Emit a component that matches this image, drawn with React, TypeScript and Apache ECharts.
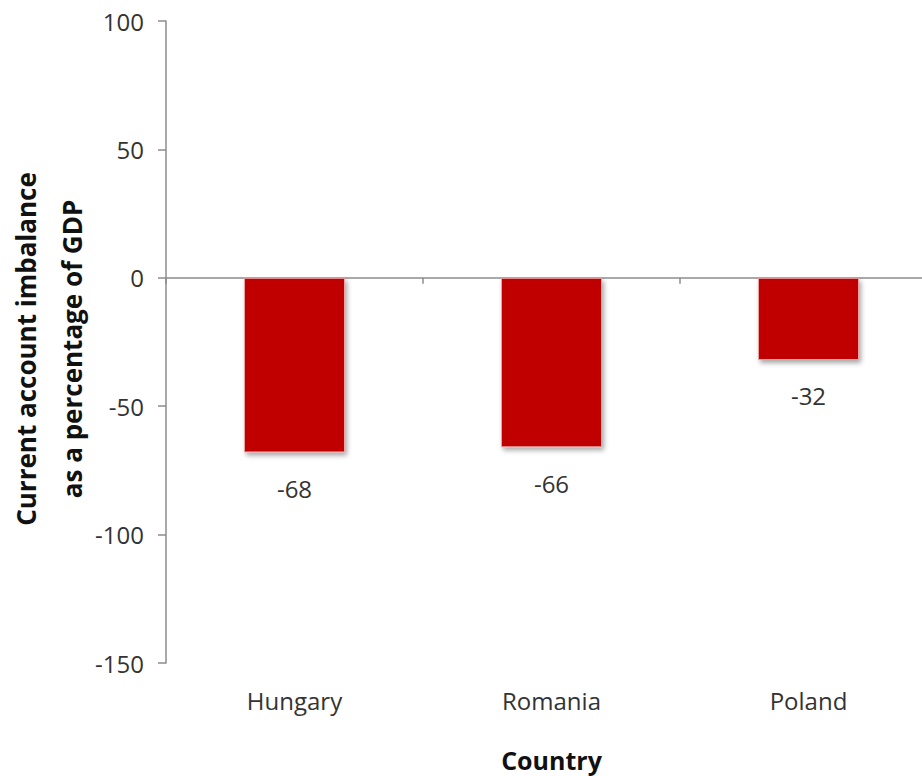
import React, { useEffect, useRef } from "react";
import * as echarts from "echarts";

const categories = ["Hungary", "Romania", "Poland"];
const values = [-68, -66, -32];
const yTicks = { min: -150, max: 100, interval: 50 };
const yTitle = "Current account imbalance\nas a percentage of GDP";
const xTitle = "Country";

export default function App() {
  const ref = useRef<HTMLDivElement>(null);
  useEffect(() => {
    if (!ref.current) return;
    const chart = echarts.init(ref.current, undefined, { renderer: "svg" });
    const font = "'Open Sans', 'Noto Sans', sans-serif";
    chart.setOption({
      animation: false,
      backgroundColor: "#ffffff",
      textStyle: { fontFamily: font },
      grid: {
        left: 166,
        right: -15,
        top: 21,
        bottom: 113,
        containLabel: false,
        outerBoundsMode: "none",
      },
      xAxis: [
        {
          type: "category",
          data: categories,
          axisLine: { onZero: true, lineStyle: { color: "#8c8c8c", width: 1.5 } },
          axisTick: { show: true, length: 6, lineStyle: { color: "#8c8c8c", width: 1.5 } },
          axisLabel: { show: false },
          splitLine: { show: false },
        },
        {
          type: "category",
          data: categories,
          position: "bottom",
          axisLine: { show: false, onZero: false },
          axisTick: { show: false },
          axisLabel: { show: true, color: "#333333", fontSize: 24, margin: 25, fontFamily: font },
          name: xTitle,
          nameLocation: "middle",
          nameGap: 84,
          nameMoveOverlap: false,
          nameTextStyle: { fontSize: 25, fontWeight: "bold", color: "#111111", fontFamily: font },
          splitLine: { show: false },
        },
      ],
      yAxis: {
        type: "value",
        min: yTicks.min,
        max: yTicks.max,
        interval: yTicks.interval,
        axisLine: { show: true, lineStyle: { color: "#8c8c8c", width: 1.5 } },
        axisTick: { show: true, length: 8, lineStyle: { color: "#8c8c8c", width: 1.5 } },
        axisLabel: { color: "#333333", fontSize: 24, margin: 22, fontFamily: font },
        splitLine: { show: false },
        name: yTitle,
        nameLocation: "middle",
        nameRotate: 90,
        nameGap: 71,
        nameMoveOverlap: false,
        nameTextStyle: {
          fontSize: 26,
          fontWeight: "bold",
          color: "#111111",
          lineHeight: 46,
          padding: [0, 14, 0, 0],
          fontFamily: font,
        },
      },
      series: [
        {
          type: "bar",
          xAxisIndex: 0,
          data: values,
          barWidth: 101,
          itemStyle: {
            color: "#C00000",
            borderColor: "#E9A3A3",
            borderWidth: 1,
            shadowColor: "rgba(0,0,0,0.35)",
            shadowBlur: 5,
            shadowOffsetX: 2,
            shadowOffsetY: 3,
          },
          label: {
            show: true,
            position: "bottom",
            distance: 24,
            color: "#333333",
            fontSize: 24,
            fontFamily: font,
          },
        },
      ],
    });
    return () => chart.dispose();
  }, []);
  return (
    <div
      ref={ref}
      style={{ position: "fixed", left: 0, top: 0, width: 922, height: 776, background: "#fff" }}
    />
  );
}
